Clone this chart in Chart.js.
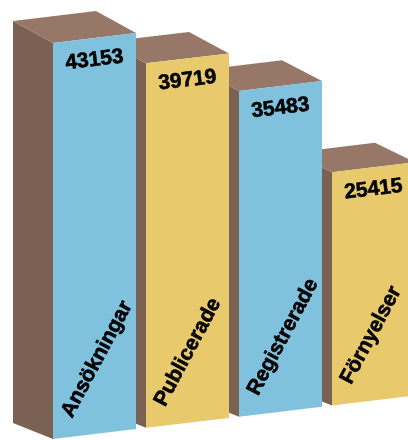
<!DOCTYPE html>
<html>
<head>
<meta charset="utf-8">
<script src="https://cdn.jsdelivr.net/npm/chart.js@4"></script>
<style>
  html, body { margin: 0; padding: 0; overflow: hidden; background: #fff; }
  #wrap { width: 430px; height: 440px; }
</style>
</head>
<body>
<div id="wrap"><canvas id="bars"></canvas></div>
<script>
const categories = ["Ansökningar", "Publicerade", "Registrerade", "Förnyelser"];
const counts = [43153, 39719, 35483, 25415];
const frontColors = ["#80c1dd", "#e8ca6c", "#80c1dd", "#e8ca6c"];

const SIDE = "#7b6152";
const TOP = "#977868";
const SKEW = 0.12;      // front plane leans up to the right
const SKEW_X0 = 53;
const DEPTH_X = -40;

// y in the flat chart -> y on screen
function sy(x, y) {
  return y - SKEW * (x - SKEW_X0);
}

function depthY(y, base) {
  return -16 - 6 * (base - y) / 396;
}

function poly(ctx, pts, color) {
  ctx.beginPath();
  ctx.moveTo(pts[0][0], pts[0][1]);
  for (let i = 1; i < pts.length; i++) ctx.lineTo(pts[i][0], pts[i][1]);
  ctx.closePath();
  ctx.fillStyle = color;
  ctx.fill();
}

// bold text with a hairline stroke to make it a bit heavier
function heavyText(ctx, txt) {
  ctx.fillText(txt, 0, 0);
  ctx.strokeText(txt, 0, 0);
}

const boxes = {
  id: "boxes",
  afterDatasetsDraw(chart) {
    const ctx = chart.ctx;
    const meta = chart.getDatasetMeta(0);
    ctx.save();
    // right to left, so each front covers the side of the bar behind it
    for (let i = meta.data.length - 1; i >= 0; i--) {
      const b = meta.data[i].getProps(["x", "y", "base", "width"], true);
      const l = b.x - b.width / 2, r = b.x + b.width / 2;
      const tl = [l, sy(l, b.y)], tr = [r, sy(r, b.y)];
      const bl = [l, sy(l, b.base)], br = [r, sy(r, b.base)];
      const dt = depthY(b.y, b.base), db = depthY(b.base, b.base);
      const tlb = [l + DEPTH_X, tl[1] + dt], trb = [r + DEPTH_X, tr[1] + dt];
      const blb = [l + DEPTH_X, bl[1] + db];

      poly(ctx, [bl, tl, tlb, blb], SIDE);
      poly(ctx, [tl, tr, trb, tlb], TOP);
      poly(ctx, [bl, tl, tr, br], frontColors[i]);

      ctx.fillStyle = "#000";
      ctx.strokeStyle = "#000";
      ctx.lineWidth = 0.6;
      ctx.lineJoin = "round";
      ctx.font = "bold 21px 'Liberation Sans', Arial, sans-serif";

      // value near the top of the front face
      ctx.save();
      ctx.translate(b.x, sy(b.x, b.y) + 22);
      ctx.rotate(Math.atan(-SKEW));
      ctx.textAlign = "center";
      ctx.textBaseline = "middle";
      heavyText(ctx, String(counts[i]));
      ctx.restore();

      // category name climbing up from the bottom
      ctx.save();
      ctx.translate(l + 19, sy(l + 19, b.base) - 18);
      ctx.rotate(-62 * Math.PI / 180);
      ctx.textAlign = "left";
      ctx.textBaseline = "alphabetic";
      heavyText(ctx, categories[i]);
      ctx.restore();
    }
    ctx.restore();
  }
};

new Chart(document.getElementById("bars"), {
  type: "bar",
  data: {
    labels: categories,
    datasets: [{
      data: counts,
      backgroundColor: "rgba(0,0,0,0)",
      categoryPercentage: 1,
      barPercentage: 0.8925
    }]
  },
  options: {
    responsive: true,
    maintainAspectRatio: false,
    animation: false,
    layout: { padding: { top: 10, bottom: 1, left: 48, right: 10 } },
    plugins: { legend: { display: false }, tooltip: { enabled: false } },
    scales: {
      x: { display: false },
      y: { display: false, min: 0, max: 46750 }
    }
  },
  plugins: [boxes]
});
</script>
</body>
</html>
